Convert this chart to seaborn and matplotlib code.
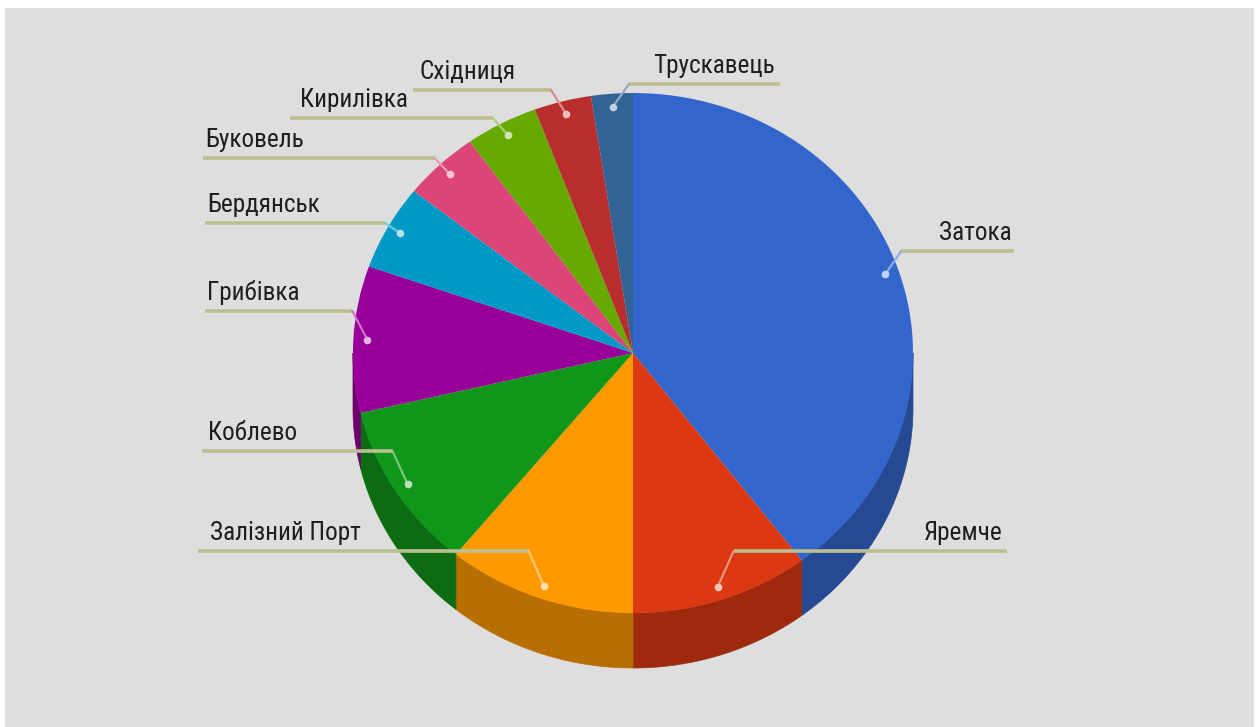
import matplotlib
matplotlib.use("Agg")
import matplotlib.pyplot as plt
import matplotlib.patches as mpatches
from matplotlib.transforms import Affine2D
import matplotlib.colors as mcolors
import numpy as np
import seaborn as sns

sns.set_theme(style="white")
plt.rcParams["font.family"] = ["Roboto Condensed", "Liberation Sans Narrow",
                               "Roboto", "DejaVu Sans"]

# Share of visits per resort (percent)
resorts = ["Затока", "Яремче", "Залізний Порт", "Коблево", "Грибівка",
           "Бердянськ", "Буковель", "Кирилівка", "Східниця", "Трускавець"]
shares = [39.7, 10.3, 10.9, 10.4, 9.1, 5.3, 4.4, 4.2, 3.3, 2.4]
slice_colors = ["#3366cc", "#dc3912", "#ff9900", "#109618", "#990099",
                "#0099c6", "#dd4477", "#66aa00", "#b82e2e", "#316395"]

# Label placement: (text x, text alignment, leader line y, outer end of leader)
label_layout = {
    "Затока":        (1012, "right", 251, 1014),
    "Яремче":        (1003, "right", 551, 1007),
    "Залізний Порт": (210, "left", 551, 198),
    "Коблево":       (208, "left", 451, 202),
    "Грибівка":      (207, "left", 311, 205),
    "Бердянськ":     (207, "left", 223, 205),
    "Буковель":      (205, "left", 158, 203),
    "Кирилівка":     (300, "left", 118, 290),
    "Східниця":      (420, "left", 90, 413),
    "Трускавець":    (775, "right", 84, 780),
}

W, H = 1259, 727
CX, CY = 633, H - 353          # pie centre (y measured upward)
RX, RY = 280, 260              # ellipse radii of the top face
DEPTH = 55                     # thickness of the 3D rim


def shade(color, f):
    r, g, b = mcolors.to_rgb(color)
    return (r * f, g * f, b * f)


def tint(color, f):
    r, g, b = mcolors.to_rgb(color)
    return (r + (1 - r) * f, g + (1 - g) * f, b + (1 - b) * f)


fig = plt.figure(figsize=(W / 100, H / 100), dpi=100, facecolor="white")
ax = fig.add_axes([0, 0, 1, 1])

# grey card behind the chart
ax.add_patch(mpatches.Rectangle((5, 0), 1249, H - 8, facecolor="#dedede",
                                edgecolor="none", zorder=0))

wedges, _ = ax.pie(shares, colors=slice_colors, startangle=90,
                   counterclock=False, radius=RX, center=(CX, CY),
                   wedgeprops=dict(linewidth=0, zorder=3))

squash = Affine2D().translate(-CX, -CY).scale(1, RY / RX).translate(CX, CY)
for w in wedges:
    w.set_transform(squash + ax.transData)

# visible outer rim: the part of each slice lying in the front half (-180..0 deg)
for w, col in zip(wedges, slice_colors):
    a0 = max(w.theta1, -180.0)
    a1 = min(w.theta2, 0.0)
    if a1 <= a0:
        continue
    t = np.radians(np.linspace(a0, a1, 80))
    xs = CX + RX * np.cos(t)
    ys = CY + RY * np.sin(t)
    poly = np.concatenate([np.column_stack([xs, ys]),
                           np.column_stack([xs[::-1], ys[::-1] - DEPTH])])
    ax.add_patch(mpatches.Polygon(poly, closed=True, facecolor=shade(col, 0.72),
                                  edgecolor=shade(col, 0.72), linewidth=0.5,
                                  zorder=2))

# leader lines, dots and labels
line_col = "#bdbf92"
for w, name, col in zip(wedges, resorts, slice_colors):
    mid = np.radians((w.theta1 + w.theta2) / 2)
    dx = CX + 0.95 * RX * np.cos(mid)
    dy = CY + 0.95 * RY * np.sin(mid)
    tx, ha, ly_px, outer = label_layout[name]
    ly = H - ly_px
    elbow_x = dx + (16 if ha == "right" else -15)
    ax.plot([outer, elbow_x], [ly, ly], color=line_col, lw=2.6,
            solid_capstyle="butt", zorder=5)
    ax.plot([elbow_x, dx], [ly, dy], color=tint(col, 0.45), lw=1.6, zorder=5)
    ax.plot([dx], [dy], marker="o", ms=5.5, color=tint(col, 0.7),
            mec="none", zorder=6)
    ax.text(tx, ly + 6, name, ha=ha, va="bottom", fontsize=18.2,
            color="#1e1e1e", zorder=6)

ax.set_xlim(0, W)
ax.set_ylim(0, H)
ax.set_aspect("auto")
ax.axis("off")

fig.savefig("out.png", dpi=100, facecolor="white")
